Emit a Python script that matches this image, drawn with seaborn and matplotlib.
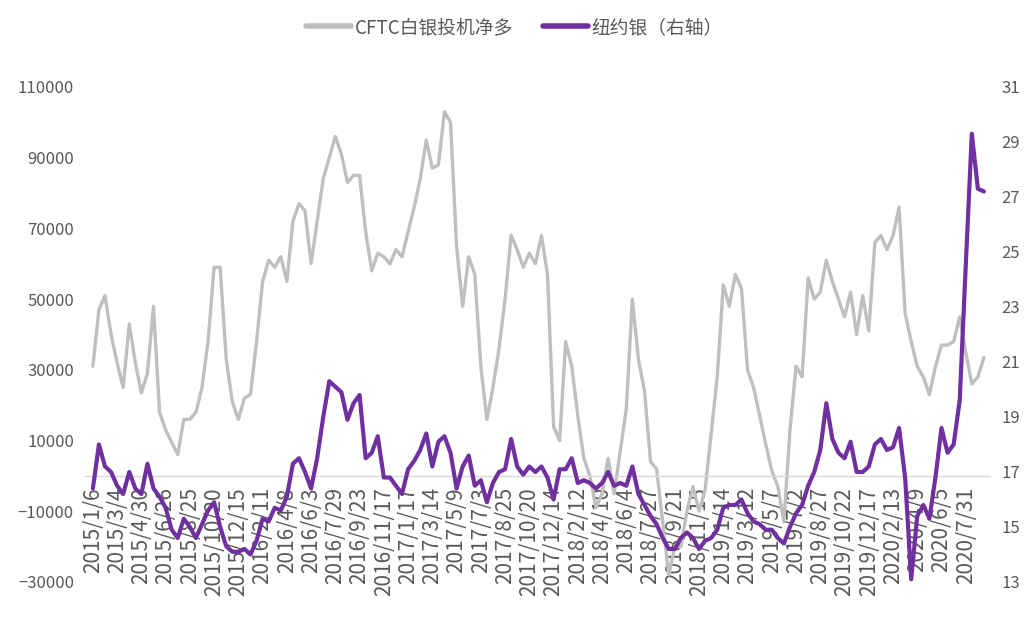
import matplotlib
matplotlib.use("Agg")
import matplotlib.pyplot as plt
import seaborn as sns
import pandas as pd

# x tick labels (one every 4 points)
tick_labels = [
    "2015/1/6", "2015/3/4", "2015/4/30", "2015/6/26", "2015/8/25", "2015/10/20",
    "2015/12/15", "2016/2/11", "2016/4/8", "2016/6/3", "2016/7/29", "2016/9/23",
    "2016/11/17", "2017/1/17", "2017/3/14", "2017/5/9", "2017/7/3", "2017/8/25",
    "2017/10/20", "2017/12/14", "2018/2/12", "2018/4/10", "2018/6/4", "2018/7/27",
    "2018/9/21", "2018/11/15", "2019/1/14", "2019/3/12", "2019/5/7", "2019/7/2",
    "2019/8/27", "2019/10/22", "2019/12/17", "2020/2/13", "2020/4/9", "2020/6/5",
    "2020/7/31",
]

# CFTC silver speculative net long (left axis)
cftc_net_long = [
    31000, 47000, 51000, 40000, 32000, 25000, 43000, 32000, 23500, 29000,
    48000, 18000, 13000, 9500, 6000, 16000, 16000, 18000, 25000, 38000,
    59000, 59000, 33000, 21000, 16000, 22000, 23000, 38000, 55000, 61000,
    59000, 62000, 55000, 72000, 77000, 75000, 60000, 72000, 84000, 90000,
    96000, 91000, 83000, 85000, 85000, 69000, 58000, 63000, 62000, 60000,
    64000, 62000, 69000, 76000, 84000, 95000, 87000, 88000, 103000, 100000,
    65000, 48000, 62000, 57000, 31000, 16000, 25000, 36000, 50000, 68000,
    64000, 59000, 63000, 60000, 68000, 57000, 14000, 10000, 38000, 31000,
    17000, 5000, 0, -9000, -5000, 5000, -5000, 7000, 19000, 50000,
    33000, 24000, 4000, 2000, -13000, -28000, -20000, -20000, -10000, -3000,
    -10000, -4000, 12000, 28000, 54000, 48000, 57000, 53000, 30000, 25000,
    17000, 9000, 1500, -3000, -13000, 13000, 31000, 28000, 56000, 50000,
    52000, 61000, 55000, 50000, 45000, 52000, 40000, 51000, 41000, 66000,
    68000, 64000, 68000, 76000, 46000, 38000, 31000, 28000, 23000, 31000,
    37000, 37000, 38000, 45000, 35000, 26000, 28000, 33500,
]

# COMEX silver price (right axis)
ny_silver = [
    16.4, 18.0, 17.2, 17.0, 16.5, 16.2, 17.0, 16.4, 16.2, 17.3,
    16.4, 16.1, 15.7, 14.9, 14.6, 15.3, 15.0, 14.6, 15.1, 15.6,
    15.9, 15.0, 14.3, 14.1, 14.1, 14.2, 14.0, 14.5, 15.3, 15.2,
    15.7, 15.6, 16.1, 17.3, 17.5, 17.0, 16.4, 17.5, 19.0, 20.3,
    20.1, 19.9, 18.9, 19.5, 19.8, 17.5, 17.7, 18.3, 16.8, 16.8,
    16.5, 16.2, 17.1, 17.4, 17.8, 18.4, 17.2, 18.1, 18.3, 17.7,
    16.4, 17.2, 17.6, 16.5, 16.7, 15.9, 16.6, 17.0, 17.1, 18.2,
    17.2, 16.9, 17.2, 17.0, 17.2, 16.8, 16.0, 17.1, 17.1, 17.5,
    16.6, 16.7, 16.6, 16.4, 16.6, 17.0, 16.5, 16.6, 16.5, 17.2,
    16.2, 15.8, 15.4, 15.1, 14.6, 14.2, 14.2, 14.6, 14.8, 14.6,
    14.2, 14.5, 14.6, 14.9, 15.7, 15.8, 15.8, 16.0, 15.5, 15.2,
    15.1, 14.9, 14.9, 14.6, 14.4, 15.0, 15.5, 15.8, 16.5, 17.0,
    17.8, 19.5, 18.2, 17.7, 17.5, 18.1, 17.0, 17.0, 17.2, 18.0,
    18.2, 17.8, 17.9, 18.6, 16.8, 13.1, 15.4, 15.8, 15.3, 16.8,
    18.6, 17.7, 18.0, 19.6, 24.5, 29.3, 27.3, 27.2,
]

df = pd.DataFrame({
    "idx": range(len(cftc_net_long)),
    "cftc": cftc_net_long,
    "silver": ny_silver,
})

sns.set_theme(style="white")
plt.rcParams["font.family"] = ["Noto Sans CJK SC", "DejaVu Sans"]
label_color = "#595959"

fig = plt.figure(figsize=(10.29, 6.2), dpi=100)
ax = fig.add_axes([0.0826, 0.0613, 0.8795, 0.7984])
ax2 = ax.twinx()

sns.lineplot(data=df, x="idx", y="cftc", ax=ax, color="#BFBFBF",
             linewidth=2.4, label="CFTC白银投机净多")
sns.lineplot(data=df, x="idx", y="silver", ax=ax2, color="#7030A0",
             linewidth=3.0, label="纽约银（右轴）")

# spines first: set_position resets the tick settings
for s in ["top", "left", "right"]:
    ax.spines[s].set_visible(False)
for s in ax2.spines.values():
    s.set_visible(False)
ax.spines["bottom"].set_position(("data", 0))
ax.spines["bottom"].set_color("#D9D9D9")
ax.spines["bottom"].set_linewidth(1.0)

ax.set_xlim(-1.3, 148.0)
ax.set_ylim(-30000, 110000)
ax.set_yticks(range(-30000, 110001, 20000))
ax2.set_ylim(13, 31)
ax2.set_yticks(range(13, 32, 2))

ax.set_xticks(range(0, len(tick_labels) * 4, 4))
ax.set_xticklabels(tick_labels)

ax.set_xlabel("")
ax.set_ylabel("")
ax2.set_ylabel("")

ax.tick_params(axis="x", length=0, pad=8, labelsize=15, labelcolor=label_color,
               labelrotation=90)
ax.tick_params(axis="y", length=0, pad=8, labelsize=12, labelcolor=label_color)
ax2.tick_params(axis="y", length=0, pad=8, labelsize=12, labelcolor=label_color)

# one legend on top for both axes
h1, l1 = ax.get_legend_handles_labels()
h2, l2 = ax2.get_legend_handles_labels()
ax.get_legend().remove()
ax2.get_legend().remove()
fig.legend(h1 + h2, l1 + l2, loc="center", bbox_to_anchor=(0.5, 0.956), ncol=2,
           frameon=False, fontsize=13.5, handlelength=2.4, handletextpad=0.2,
           columnspacing=1.6, labelcolor=label_color)
for line in fig.legends[0].get_lines():
    line.set_linewidth(4)

fig.savefig("out.png", dpi=100)
